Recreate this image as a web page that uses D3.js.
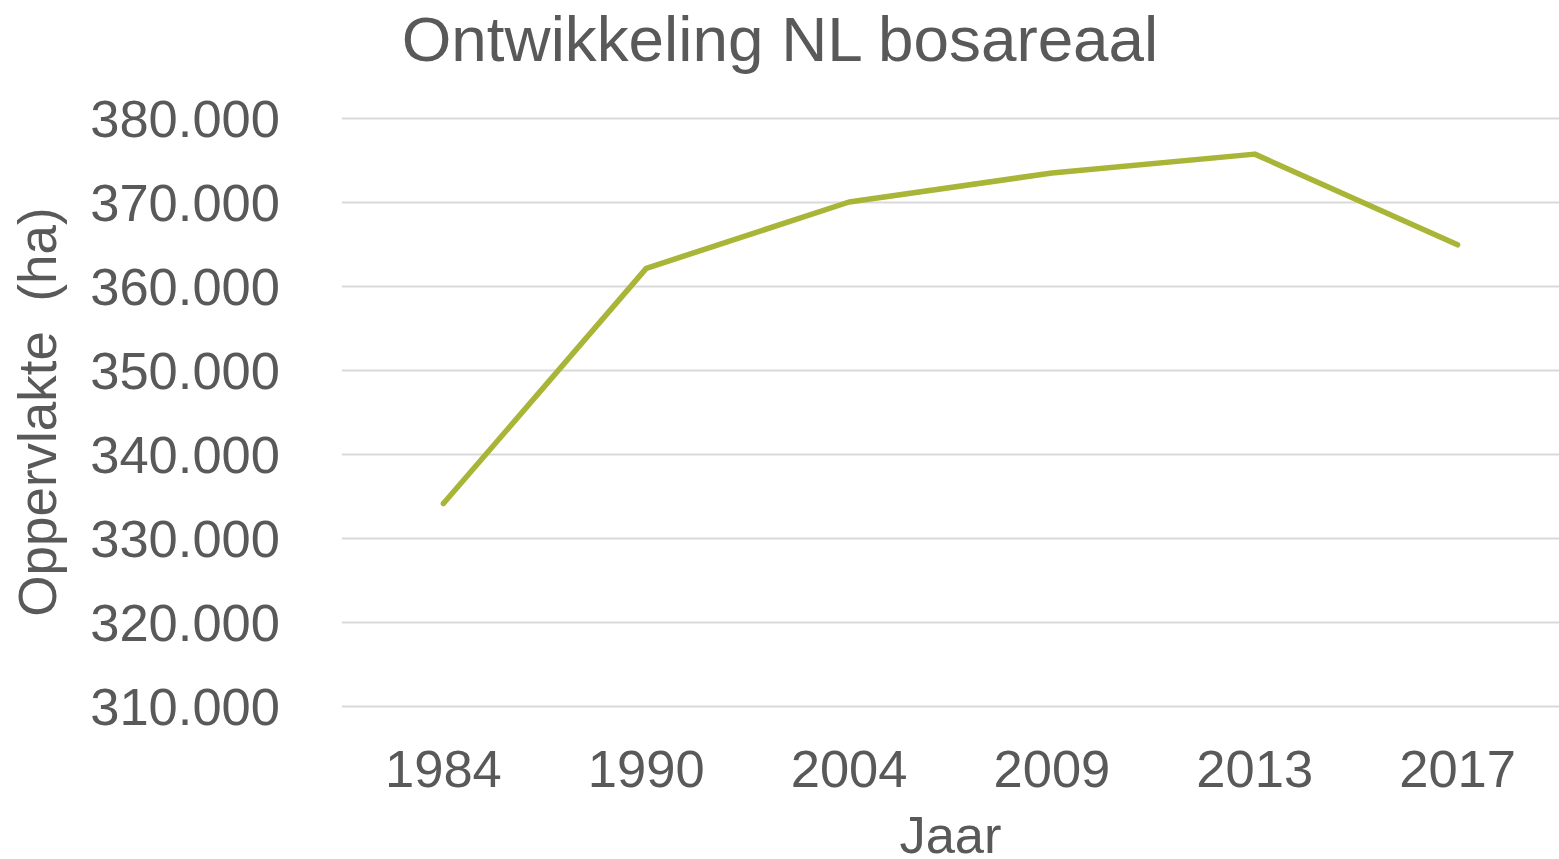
<!DOCTYPE html>
<html>
<head>
<meta charset="utf-8">
<script src="https://cdn.jsdelivr.net/npm/d3@7"></script>
<style>
  body { margin: 0; background: #fff; }
  svg { display: block; font-family: "Liberation Sans", Arial, sans-serif; }
</style>
</head>
<body>
<div class="chart"></div>
<script>
// data
var years = ["1984", "1990", "2004", "2009", "2013", "2017"];
var area = [334100, 362100, 370000, 373450, 375700, 364900];
var yTicks = [310000, 320000, 330000, 340000, 350000, 360000, 370000, 380000];

var width = 1559, height = 859;
var margin = {left: 342, right: 0, top: 118, bottom: 153};
var textColor = "#595959";

var svg = d3.select(".chart").append("svg")
  .attr("width", width)
  .attr("height", height);

var x = d3.scaleBand()
  .domain(years)
  .range([margin.left, width - margin.right]);

var y = d3.scaleLinear()
  .domain([310000, 380000])
  .range([height - margin.bottom, margin.top]);

// dutch style thousands: 380.000
var fmt = d3.formatLocale({decimal: ",", thousands: ".", grouping: [3], currency: ["€", ""]}).format(",d");

// gridlines + y labels
var yAxis = d3.axisLeft(y)
  .tickValues(yTicks)
  .tickSize(-(width - margin.left - margin.right))
  .tickPadding(62)
  .tickFormat(fmt);

var gy = svg.append("g")
  .attr("transform", "translate(" + margin.left + ",0)")
  .call(yAxis);
gy.select(".domain").remove();
gy.selectAll(".tick line").attr("stroke", "#d9d9d9").attr("stroke-width", 2);
gy.selectAll(".tick text")
  .attr("fill", textColor)
  .attr("font-size", 52.5)
  .attr("dy", "0.36em");

// x labels
var xAxis = d3.axisBottom(x).tickSize(0).tickPadding(44);
var gx = svg.append("g")
  .attr("transform", "translate(0," + (height - margin.bottom) + ")")
  .call(xAxis);
gx.select(".domain").remove();
gx.selectAll(".tick text")
  .attr("fill", textColor)
  .attr("font-size", 52.5);

// the line
var line = d3.line()
  .x(function(d, i) { return x(years[i]) + x.bandwidth() / 2; })
  .y(function(d) { return y(d); });

svg.append("path")
  .datum(area)
  .attr("fill", "none")
  .attr("stroke", "#a8b536")
  .attr("stroke-width", 5.5)
  .attr("stroke-linejoin", "round")
  .attr("stroke-linecap", "round")
  .attr("d", line);

// titles
svg.append("text")
  .attr("x", 780)
  .attr("y", 61)
  .attr("text-anchor", "middle")
  .attr("fill", textColor)
  .attr("font-size", 63.8)
  .text("Ontwikkeling NL bosareaal");

svg.append("text")
  .attr("x", (margin.left + width - margin.right) / 2)
  .attr("y", 853)
  .attr("text-anchor", "middle")
  .attr("fill", textColor)
  .attr("font-size", 52.5)
  .text("Jaar");

svg.append("text")
  .attr("transform", "translate(56," + ((y(310000) + y(380000)) / 2) + ") rotate(-90)")
  .attr("text-anchor", "middle")
  .attr("fill", textColor)
  .attr("font-size", 53)
  .attr("xml:space", "preserve")
  .style("white-space", "pre")
  .text("Oppervlakte  (ha)");
</script>
</body>
</html>
